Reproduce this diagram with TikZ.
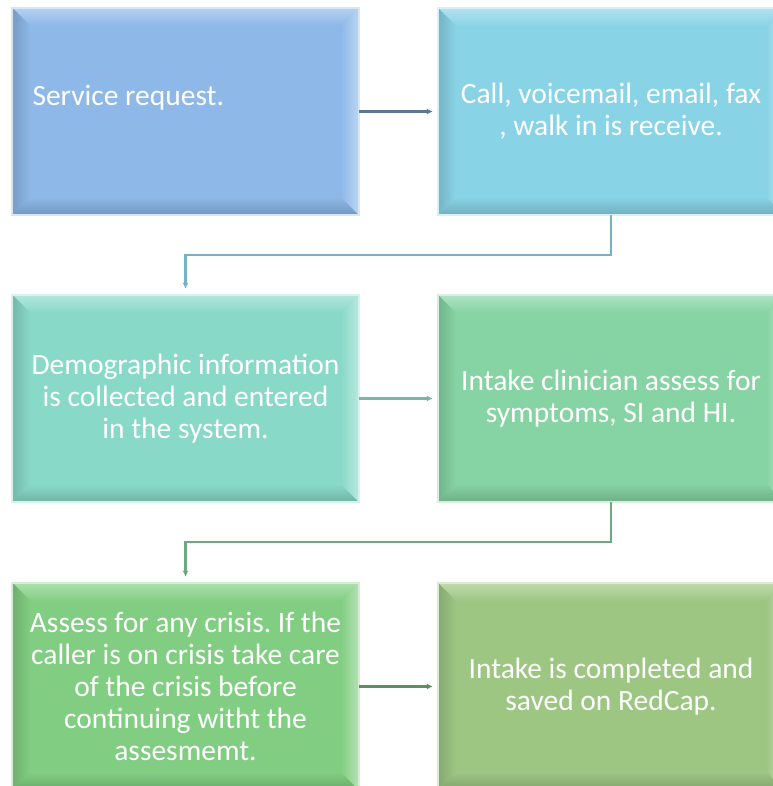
\documentclass[tikz,border=0pt]{standalone}
\usepackage{fontspec}
\setmainfont{Carlito}
\usetikzlibrary{calc,arrows.meta,backgrounds}
\definecolor{reqblue}{HTML}{8DB8E8}
\definecolor{callcyan}{HTML}{89D3E6}
\definecolor{demoteal}{HTML}{89D9C8}
\definecolor{intakegreen}{HTML}{86D3A3}
\definecolor{crisisgreen}{HTML}{81CE82}
\definecolor{doneolive}{HTML}{9DC683}
\begin{document}
\begin{tikzpicture}[x=1pt, y=1pt,
    stepbox/.style={rectangle, minimum width=346pt, minimum height=207pt, inner sep=0pt, text=white, font=\fontsize{29.5}{32}\selectfont\frenchspacing},
    flow/.style={line width=2.2pt, -{Latex[length=6pt, width=6pt]}, shorten >=5pt}]
    \useasboundingbox (0,0) rectangle (772,786);
    \clip (0,0) rectangle (772,786);
    \node (request) at (185.5,674.5) [stepbox, text width=306pt, align=flush left] {Service request.\\\mbox{}};
    \node (call) at (611,674.5) [stepbox, align=center] {Call, voicemail, email, fax\\, walk in is receive.};
    \node (demo) at (185.5,387.5) [stepbox, align=center] {Demographic information\\is collected and entered\\in the system.};
    \node (clinician) at (611,387.5) [stepbox, align=center] {Intake clinician assess for\\symptoms, SI and HI.};
    \node (crisis) at (185.5,99.5) [stepbox, align=center] {Assess for any crisis. If the\\caller is on crisis take care\\of the crisis before\\continuing witht the\\assesmemt.};
    \node (done) at (611,99.5) [stepbox, align=center] {Intake is completed and\\saved on RedCap.};
    \coordinate (turn1) at (611,531);
    \coordinate (turn2) at (611,244);
    % Bevelled boxes behind the text
    \begin{scope}[on background layer]
    \foreach \n/\c in {request/reqblue, call/callcyan, demo/demoteal, clinician/intakegreen, crisis/crisisgreen, done/doneolive} {
        \fill[\c] (\n.south west) rectangle (\n.north east);
        \shade[top color=\c!65!white, bottom color=\c] (\n.north west) -- (\n.north east) -- ($(\n.north east)+(-18,-18)$) -- ($(\n.north west)+(18,-18)$) -- cycle;
        \shade[left color=\c!85!black, right color=\c] (\n.north west) -- ($(\n.north west)+(18,-18)$) -- ($(\n.south west)+(18,18)$) -- (\n.south west) -- cycle;
        \shade[left color=\c, right color=\c!60!white] (\n.north east) -- ($(\n.north east)+(-18,-18)$) -- ($(\n.south east)+(-18,18)$) -- (\n.south east) -- cycle;
        \shade[top color=\c, bottom color=\c!82!black] (\n.south west) -- ($(\n.south west)+(18,18)$) -- ($(\n.south east)+(-18,18)$) -- (\n.south east) -- cycle;
        \draw[\c!35!white, line width=2pt] (\n.south west) rectangle (\n.north east);
    }
    \end{scope}
    % Draw the connectors
    \draw[flow, draw=reqblue!65!black] (request) -- (call);
    \draw[flow, draw=callcyan!85!black, shorten >=6pt] (call.south) -- (turn1) -| (demo.north);
    \draw[flow, draw=demoteal!85!black] (demo) -- (clinician);
    \draw[flow, draw=intakegreen!80!black, shorten >=6pt] (clinician.south) -- (turn2) -| (crisis.north);
    \draw[flow, draw=crisisgreen!70!black] (crisis) -- (done);
\end{tikzpicture}
\end{document}
